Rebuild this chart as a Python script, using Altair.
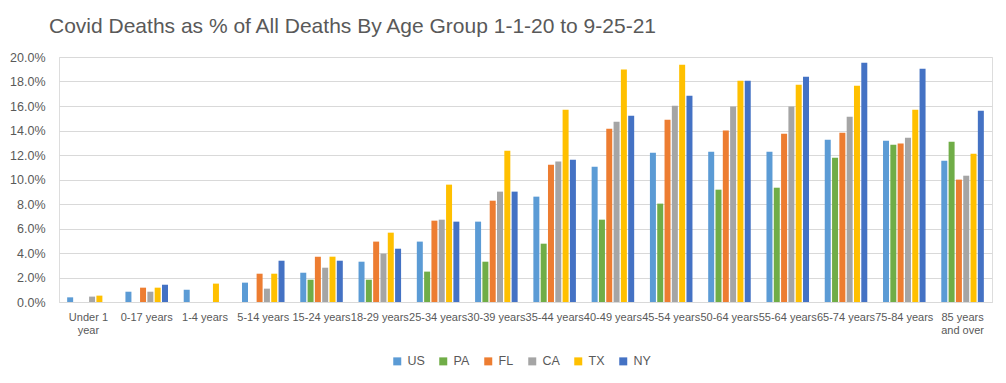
import altair as alt
import pandas as pd

ages = ["Under 1 year", "0-17 years", "1-4 years", "5-14 years", "15-24 years",
        "18-29 years", "25-34 years", "30-39 years", "35-44 years", "40-49 years",
        "45-54 years", "50-64 years", "55-64 years", "65-74 years", "75-84 years",
        "85 years and over"]
series = ["US", "PA", "FL", "CA", "TX", "NY"]
colors = ["#5B9BD5", "#70AD47", "#ED7D31", "#A5A5A5", "#FFC000", "#4472C4"]

US = [0.38, 0.84, 1.00, 1.58, 2.39, 3.29, 4.93, 6.56, 8.60, 11.05, 12.19, 12.27, 12.27, 13.25, 13.17, 11.54]
PA = [None, None, None, None, 1.82, 1.82, 2.48, 3.29, 4.76, 6.72, 8.03, 9.17, 9.33, 11.78, 12.84, 13.09]
FL = [None, 1.17, None, 2.31, 3.70, 4.93, 6.64, 8.27, 11.21, 14.15, 14.88, 13.99, 13.74, 13.82, 12.93, 9.99]
CA = [0.44, 0.84, None, 1.09, 2.80, 3.95, 6.72, 9.01, 11.46, 14.72, 16.03, 15.95, 15.95, 15.13, 13.41, 10.31]
TX = [0.52, 1.17, 1.50, 2.31, 3.70, 5.66, 9.58, 12.35, 15.70, 18.97, 19.37, 18.07, 17.74, 17.66, 15.70, 12.11]
NY = [None, 1.41, None, 3.37, 3.37, 4.35, 6.56, 9.01, 11.62, 15.21, 16.84, 18.07, 18.39, 19.54, 19.05, 15.62]

rows = []
for name, vals in zip(series, [US, PA, FL, CA, TX, NY]):
    for a, v in zip(ages, vals):
        if v is not None:
            rows.append({"age": a, "state": name, "value": v})
df = pd.DataFrame(rows)

FONT = "Liberation Sans"

label_expr = ("datum.label == 'Under 1 year' ? ['Under 1', 'year'] : "
              "datum.label == '85 years and over' ? ['85 years', 'and over'] : datum.label")

chart = alt.Chart(df).mark_bar().encode(
    x=alt.X("age:N", sort=ages, title=None,
            scale=alt.Scale(paddingInner=0.27, paddingOuter=0.14),
            axis=alt.Axis(labelAngle=0, labelExpr=label_expr, ticks=False,
                          domainColor="#D9D9D9", labelColor="#595959",
                          labelFontSize=11, labelFont=FONT, labelPadding=9,
                          labelLineHeight=13,
                          labelLimit=200, labelOverlap=False)),
    xOffset=alt.XOffset("state:N", sort=series,
                        scale=alt.Scale(paddingInner=0.18)),
    y=alt.Y("value:Q", title=None,
            scale=alt.Scale(domain=[0, 20], nice=False),
            axis=alt.Axis(values=list(range(0, 21, 2)),
                          labelExpr="format(datum.value, '.1f') + '%'",
                          gridColor="#D9D9D9", domain=False, ticks=False,
                          labelColor="#595959", labelFontSize=12.5,
                          labelFont=FONT, labelPadding=14)),
    color=alt.Color("state:N", sort=series,
                    scale=alt.Scale(domain=series, range=colors),
                    legend=alt.Legend(title=None, orient="none", direction="horizontal",
                                      legendX=332, legendY=298,
                                      symbolType="square", symbolSize=64,
                                      symbolStrokeWidth=0,
                                      labelFontSize=12.5, labelFont=FONT,
                                      labelColor="#595959", columnPadding=12,
                                      labelOffset=4)),
).properties(
    width=933, height=245,
    autosize=alt.AutoSizeParams(type="none"),
    padding={"left": 51, "top": 49, "right": 6, "bottom": 73},
    title=alt.TitleParams("Covid Deaths as % of All Deaths By Age Group 1-1-20 to 9-25-21",
                          anchor="start", frame="group", dx=-10, offset=14, fontSize=21,
                          font=FONT, fontWeight="normal", color="#595959"),
).configure_view(stroke=None).configure(background="white")

chart.save("out.html", embed_options={"renderer": "svg", "actions": False})
